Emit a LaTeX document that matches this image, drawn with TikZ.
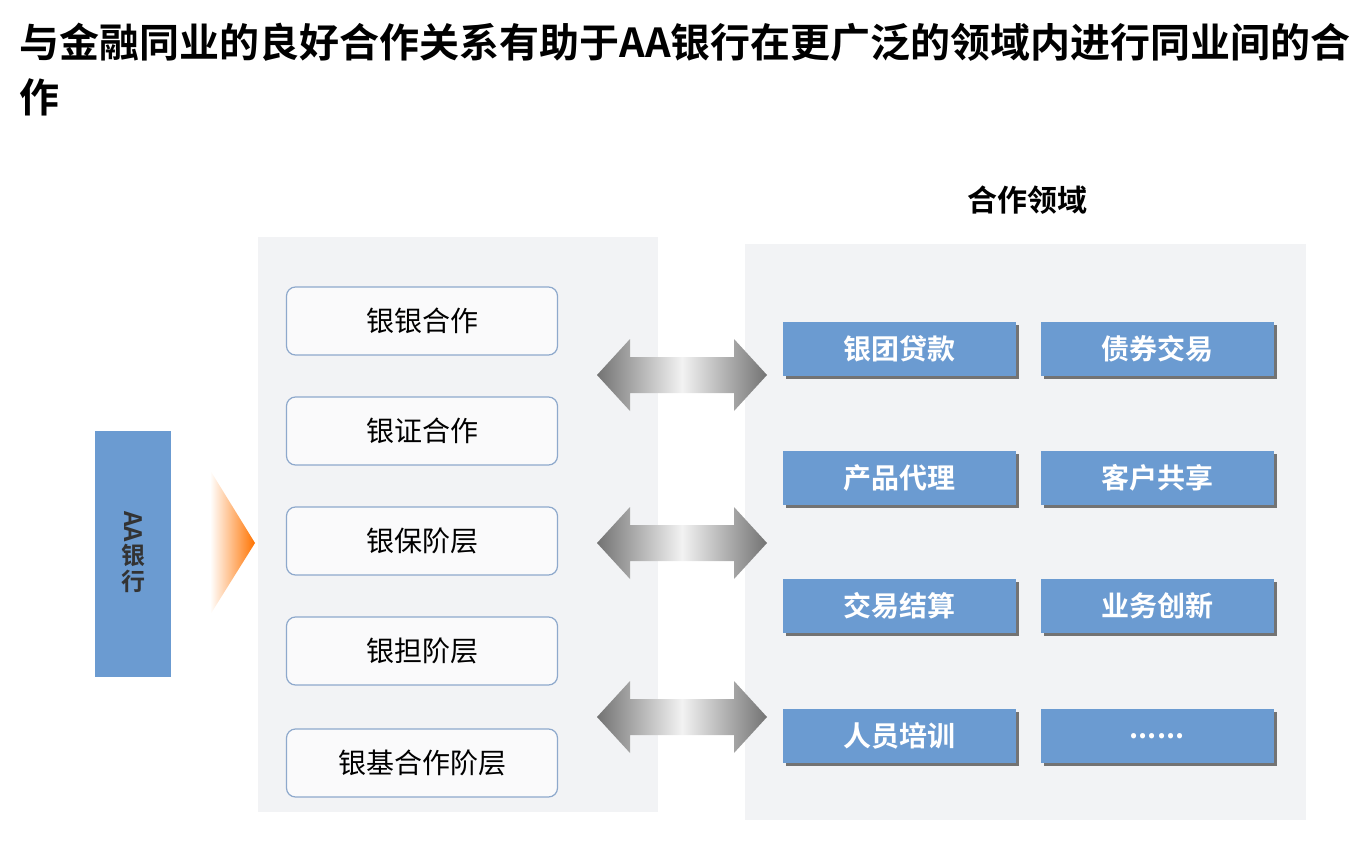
\documentclass[tikz,border=0pt]{standalone}
\usepackage{fontspec}
\setmainfont{Noto Sans CJK SC}
\newfontfamily\cjkbold{Noto Sans CJK SC Bold}
\usetikzlibrary{positioning,shadows}
\definecolor{fieldblue}{HTML}{6B9BD1}
\definecolor{boxline}{HTML}{8EA9CC}
\definecolor{panelgray}{HTML}{F2F3F5}
\tikzset{
  levelbox/.style={draw=boxline,line width=1.2pt,rounded corners=9pt,fill=white!60!panelgray,
    minimum width=271pt,minimum height=68pt,font=\fontsize{28}{28}\selectfont},
  fieldbox/.style={fill=fieldblue,minimum width=233pt,minimum height=54pt,text=white,
    font=\cjkbold\fontsize{28}{28}\selectfont,
    drop shadow={shadow xshift=3pt,shadow yshift=-3pt,fill=black!55,opacity=1}},
  linkarrow/.style={left color=black!55,right color=black!55,middle color=black!5},
  banktext/.style={font=\cjkbold\fontsize{24}{24}\selectfont,text=black!80,inner sep=0pt}
}
\begin{document}
\begin{tikzpicture}[x=1pt,y=-1pt]
  \useasboundingbox (0,0) rectangle (1362,842);
  % title
  \node[anchor=west,font=\cjkbold\fontsize{40}{40}\selectfont] (title1) at (16,42)
    {与金融同业的良好合作关系有助于AA银行在更广泛的领域内进行同业间的合};
  \node[anchor=west,font=\cjkbold\fontsize{40}{40}\selectfont] (title2) at (16,97) {作};
  % panels
  \fill[panelgray] (258,237) rectangle (658,812);
  \fill[panelgray] (745,244) rectangle (1306,820);
  \node[font=\cjkbold\fontsize{30}{30}\selectfont] (areahead) at (1027,200) {合作领域};
  % AA bank
  \node[fill=fieldblue,minimum width=76pt,minimum height=246pt,inner sep=0pt] (bank) at (133,554) {};
  \node[banktext,rotate=-90] (bankaa) at (133,527) {AA};
  \node[banktext] (bankyin) at (133,555) {银};
  \node[banktext] (bankhang) at (133,581) {行};
  \shade[left color=white,right color=orange!90!red] (210,470) -- (255,543) -- (210,615) -- cycle;
  % levels
  \foreach \name/\y/\txt in {l1/321/银银合作,l2/431/银证合作,l3/541/银保阶层,l4/651/银担阶层,l5/763/银基合作阶层}
    \node[levelbox] (\name) at (422,\y) {\txt};
  % arrows
  \foreach \y in {375,543,717}
    \shade[linkarrow] (597,\y) -- (630,\y-36) -- (630,\y-18) -- (734,\y-18) -- (734,\y-36)
      -- (767,\y) -- (734,\y+36) -- (734,\y+18) -- (630,\y+18) -- (630,\y+36) -- cycle;
  % fields
  \foreach \name/\x/\y/\txt in {f1/899/349/银团贷款,f2/1157/349/债券交易,f3/899/478/产品代理,f4/1157/478/客户共享,
      f5/899/606/交易结算,f6/1157/606/业务创新,f7/899/736/人员培训,f8/1157/736/{......}}
    \node[fieldbox] (\name) at (\x,\y) {\txt};
\end{tikzpicture}
\end{document}
